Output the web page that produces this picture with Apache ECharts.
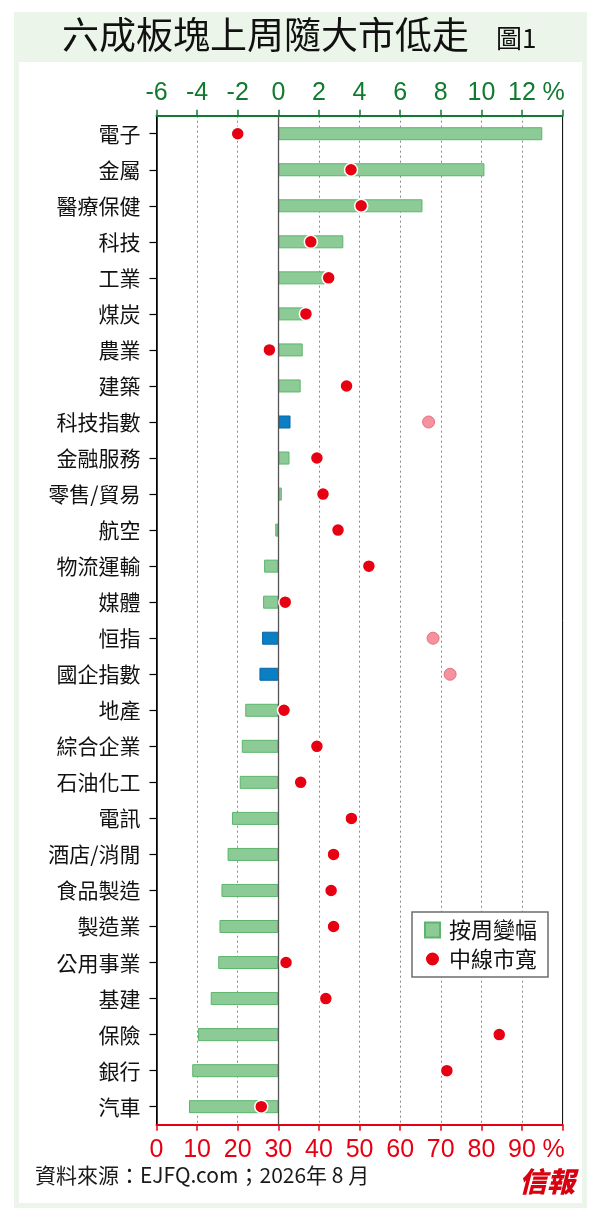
<!DOCTYPE html>
<html>
<head>
<meta charset="utf-8">
<script src="https://cdn.jsdelivr.net/npm/echarts@6/dist/echarts.min.js"></script>
<style>
html,body{margin:0;padding:0;background:#fff;}
#c{width:600px;height:1221px;}
</style>
</head>
<body>
<div id="c"></div>
<script>
var categories = ['電子','金屬','醫療保健','科技','工業','煤炭','農業','建築','科技指數','金融服務','零售/貿易','航空','物流運輸','媒體','恒指','國企指數','地產','綜合企業','石油化工','電訊','酒店/消閒','食品製造','製造業','公用事業','基建','保險','銀行','汽車'];
var weeklyChange = [13.0,10.15,7.1,3.2,2.3,1.25,1.2,1.1,0.6,0.55,0.17,-0.15,-0.7,-0.75,-0.8,-0.93,-1.63,-1.8,-1.9,-2.28,-2.5,-2.8,-2.9,-2.96,-3.33,-3.96,-4.24,-4.4];
var breadth = [20.0,47.9,50.4,38.0,42.4,36.8,27.8,46.8,67.0,39.5,41.0,44.7,52.3,31.7,68.1,72.3,31.4,39.5,35.5,48.0,43.6,43.0,43.6,31.9,41.7,84.4,71.5,25.8];
var indexNames = ['科技指數','恒指','國企指數'];
var topTicks = [-6,-4,-2,0,2,4,6,8,10,12];
var bottomTicks = [0,10,20,30,40,50,60,70,80,90];
var seriesNames = ['按周變幅','中線市寬'];
var titleText = '六成板塊上周隨大市低走';
var figText = '圖1';
var sourceText = '資料來源：EJFQ.com；2026年 8 月';
var logoText = '信報';

var CJK = '"Noto Sans CJK TC","Noto Sans CJK SC",sans-serif';
var NUM = '"Liberation Sans Narrow","Liberation Sans",Arial,sans-serif';
var GREEN_AX = '#117a2f';
var RED = '#e60012';

var barData = weeklyChange.map(function(v, i){
  var isIdx = indexNames.indexOf(categories[i]) >= 0;
  return {value: v, itemStyle: isIdx ? {color:'#0a7fc4', borderColor:'#0866a6', borderWidth:1} : {}};
});
var dotData = breadth.map(function(v, i){
  var isIdx = indexNames.indexOf(categories[i]) >= 0;
  return {value: [v, categories[i]], symbolSize: isIdx ? 12 : 13,
    itemStyle: isIdx ? {color:'#f4939f', borderColor:'#e8707c', borderWidth:1} : {}};
});

var chart = echarts.init(document.getElementById('c'));
chart.setOption({
  animation: false,
  backgroundColor: 'transparent',
  graphic: [
    {type:'rect', z:-100, shape:{x:14,y:12,width:573,height:1196}, style:{fill:'#ecf5ea'}},
    {type:'rect', z:-99, shape:{x:19,y:62,width:563,height:1141}, style:{fill:'#ffffff'}},
    {type:'text', z:10, left: 62, top: 16, style:{text: titleText, font: '37px ' + CJK, fill:'#111'}},
    {type:'text', z:10, left: 496, top: 25, style:{text: figText, font: '26px ' + CJK, fill:'#111'}},
    {type:'text', z:10, left: 35, top: 1165, style:{text: sourceText, font: '21px ' + CJK, fill:'#1a1a1a'}},
    {type:'text', z:10, left: 519, top: 1167, style:{text: logoText, font: 'italic 900 28px ' + CJK, fill:'#d9000f'}}
  ],
  legend: {
    orient: 'vertical',
    left: 412, top: 912,
    backgroundColor: '#fff',
    borderColor: '#6e6e6e', borderWidth: 1.5, borderRadius: 0,
    padding: [7, 11, 7, 12],
    itemWidth: 15, itemHeight: 15, itemGap: 7,
    textStyle: {fontFamily: CJK, fontSize: 22, color:'#111', padding:[0,0,0,4]},
    data: [{name: seriesNames[0], icon:'rect'}, {name: seriesNames[1], icon:'circle'}]
  },
  grid: {left: 156.5, right: 37.4, top: 115.7, bottom: 96.3, show: true, borderColor:'#000', borderWidth: 1},
  xAxis: [
    {
      type: 'value', position: 'top', min: -6, max: 14, interval: 2,
      axisLine: {show: true, onZero: false, lineStyle: {color: GREEN_AX, width: 2}},
      axisTick: {show: true, length: 6, lineStyle: {color: GREEN_AX, width: 1.5}},
      axisLabel: {
        fontFamily: NUM, fontSize: 25, color: GREEN_AX, margin: 10,
        formatter: function(v){ return v === 14 ? '{p|%}' : String(v); },
        rich: {p: {fontFamily: NUM, fontSize: 25, color: GREEN_AX, padding:[0,18,0,0]}}
      },
      splitLine: {show: true, showMinLine: false, showMaxLine: false, lineStyle: {color:'#8a8a8a', width: 1, type: [2,3]}}
    },
    {
      type: 'value', position: 'bottom', min: 0, max: 100, interval: 10,
      axisLine: {show: true, onZero: false, lineStyle: {color: RED, width: 2}},
      axisTick: {show: true, length: 6, lineStyle: {color: RED, width: 1.5}},
      axisLabel: {
        fontFamily: NUM, fontSize: 25, color: RED, margin: 13,
        formatter: function(v){ return v === 100 ? '{p|%}' : String(v); },
        rich: {p: {fontFamily: NUM, fontSize: 25, color: RED, padding:[0,18,0,0]}}
      },
      splitLine: {show: false}
    }
  ],
  yAxis: {
    type: 'category', inverse: true, data: categories,
    axisLine: {show: true, onZero: false, lineStyle: {color:'#000', width: 1.5}},
    axisTick: {show: true, length: 7, alignWithLabel: true, lineStyle: {color:'#000', width: 1.2}},
    axisLabel: {fontFamily: CJK, fontSize: 21, color:'#111', margin: 16},
    splitLine: {show: false}
  },
  series: [
    {
      name: seriesNames[0], type: 'bar', xAxisIndex: 0, yAxisIndex: 0,
      barWidth: 13, z: 2,
      itemStyle: {color:'#8dcb96', borderColor:'#5cb56b', borderWidth: 1},
      data: barData,
      markLine: {
        silent: true, symbol: 'none', label: {show: false},
        lineStyle: {color:'#555', width: 1.3, type:'solid'},
        data: [{xAxis: 0}]
      }
    },
    {
      name: seriesNames[1], type: 'scatter', xAxisIndex: 1, yAxisIndex: 0,
      symbol: 'circle', symbolSize: 13, z: 5,
      itemStyle: {color: RED, borderColor:'#fff', borderWidth: 1.5, opacity: 1},
      data: dotData
    }
  ]
});
</script>
</body>
</html>
